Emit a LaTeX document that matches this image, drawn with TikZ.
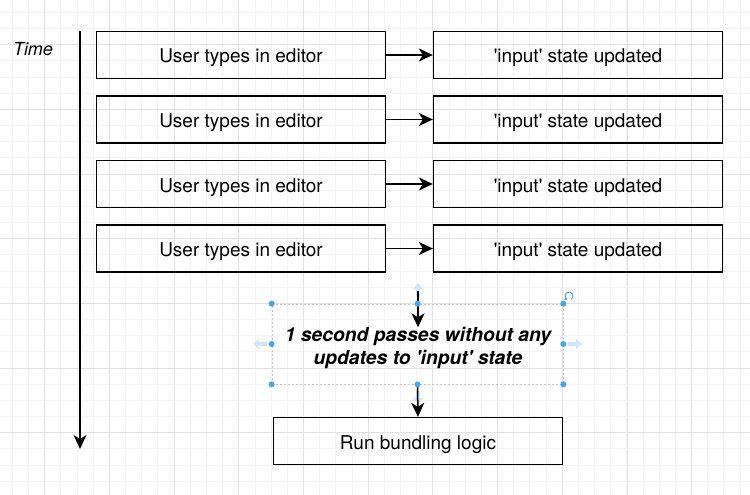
\documentclass[tikz,border=0pt]{standalone}
\usepackage{fontspec}
\setmainfont{TeX Gyre Heros}
\usetikzlibrary{arrows.meta}
\definecolor{gridminor}{RGB}{244,244,244}
\definecolor{gridmajor}{RGB}{226,226,226}
\definecolor{handle}{RGB}{74,165,226}
\definecolor{hint}{RGB}{210,230,245}
\newcommand{\sq}{\textquotesingle}
\tikzset{
    box/.style={draw, line width=1.3pt, minimum width=289pt, minimum height=47pt,
        inner sep=0pt, text height=16pt, text depth=0pt, font=\fontsize{19}{23}\selectfont},
    flow/.style={-{Stealth[length=14pt,width=13pt,inset=4pt]}, line width=1.5pt},
    hintarrow/.style={-{Triangle[length=6pt,width=10pt]}, line width=3.5pt, hint},
}
\begin{document}
\begin{tikzpicture}[x=1pt, y=-1pt]
    % Fix the page and paint the background
    \useasboundingbox (0,0) rectangle (750,495);
    \fill[white] (0,0) rectangle (750,495);

    % Draw the grid, minor lines first
    \foreach \k in {-2,...,44} {
        \draw[gridminor, line width=0.6pt] ({44.6+16.17*\k},0) -- ({44.6+16.17*\k},495);
    }
    \foreach \k in {-2,...,28} {
        \draw[gridminor, line width=0.6pt] (0,{44.5+16.17*\k}) -- (750,{44.5+16.17*\k});
    }
    \foreach \k in {0,...,11} {
        \draw[gridmajor, line width=0.7pt] ({44.6+64.7*\k},0) -- ({44.6+64.7*\k},495);
    }
    \foreach \k in {0,...,7} {
        \draw[gridmajor, line width=0.7pt] (0,{44.5+64.7*\k}) -- (750,{44.5+64.7*\k});
    }

    % Draw the time axis and its label
    \coordinate (t0) at (80,31);
    \coordinate (t1) at (80,449);
    \draw[flow] (t0) -- (t1);
    \node[font=\itshape\fontsize{18}{22}\selectfont] (time) at (33,49) {Time};

    % Draw the four typing steps and what they update
    \foreach \r/\y in {1/55,2/119.5,3/184,4/248.5} {
        \node[box] (user\r) at (241,\y) {User types in editor};
        \node[box] (input\r) at (578,\y) {\sq input\sq{} state updated};
        \draw[flow] (user\r) -- (input\r);
    }

    % Selected text in the middle
    \node[draw=gray!45, dash pattern=on 2pt off 2pt, line width=0.7pt,
        minimum width=291pt, minimum height=80pt] (sel) at (417.5,344) {};
    \node[font=\bfseries\itshape\fontsize{19.3}{22.5}\selectfont, align=center, inner sep=0pt]
        (wait) at (418,348) {1 second passes without any\\updates to \sq input\sq{} state};

    % Draw the last step
    \node[box] (run) at (418,441) {Run bundling logic};

    % Faint hover arrows round the selection
    \draw[hintarrow] (418,297) -- (418,283);
    \draw[hintarrow] (267,344) -- (253,344);
    \draw[hintarrow] (568,344) -- (582,344);
    \draw[hintarrow] (418,391) -- (418,404);

    % Connect the selection to the steps
    \coordinate (tail) at (418,291);
    \draw[flow] (tail) -- (wait.north);
    \draw[flow] (sel.south) -- (run.north);

    % Selection handles
    \foreach \a in {north west,north,north east,east,south east,south,south west,west} {
        \fill[handle] (sel.\a) circle (3pt);
    }
    \draw[handle, line width=0.9pt, -{Triangle[length=2pt,width=3pt]}]
        (569,296) ++(60:4) arc[start angle=60, end angle=-240, radius=4];
\end{tikzpicture}
\end{document}
